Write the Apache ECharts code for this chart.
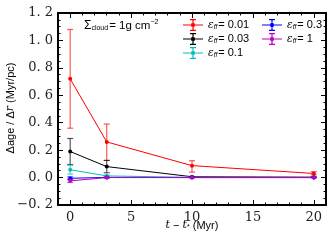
<!DOCTYPE html>
<html><head><meta charset="utf-8">
<script src="https://cdn.jsdelivr.net/npm/echarts@6/dist/echarts.min.js"></script>
<style>html,body{margin:0;padding:0;background:#fff}#c{width:333px;height:244px}</style>
</head><body><div id="c"></div>
<script>
// Data
const times = [0, 3, 10, 20];
const effLabels = ['0.01', '0.03', '0.1', '0.3', '1'];
const colors = ['#ff0000', '#000000', '#00bfbf', '#0000ff', '#bf00bf'];
const val_001 = [0.72, 0.26, 0.087, 0.03];
const lo_001  = [0.36, 0.125, 0.04, 0.02];
const hi_001  = [1.08, 0.39, 0.123, 0.043];
const val_003 = [0.19, 0.08, 0.006, 0.003];
const lo_003  = [0.095, 0.035, 0.004, 0.002];
const hi_003  = [0.285, 0.125, 0.008, 0.004];
const val_01  = [0.057, 0.012, 0.002, 0.001];
const lo_01   = [0.025, 0.006, 0.001, 0.0];
const hi_01   = [0.09, 0.018, 0.003, 0.002];
const val_03  = [-0.005, 0.001, 0.0, 0.0];
const lo_03   = [-0.015, -0.002, -0.001, -0.001];
const hi_03   = [0.005, 0.004, 0.001, 0.001];
const val_1   = [-0.024, 0.0, 0.0, 0.0];
const lo_1    = [-0.036, -0.003, -0.001, -0.001];
const hi_1    = [-0.012, 0.003, 0.001, 0.001];
const xMajor = [0, 5, 10, 15, 20];
const xMinor = [-1, 1, 2, 3, 4, 6, 7, 8, 9, 11, 12, 13, 14, 16, 17, 18, 19, 21];

const vals = [val_001, val_003, val_01, val_03, val_1];
const los = [lo_001, lo_003, lo_01, lo_03, lo_1];
const his = [hi_001, hi_003, hi_01, hi_03, hi_1];

const chart = echarts.init(document.getElementById('c'), null, {renderer: 'canvas'});
const serif = 'DejaVu Serif';
const sans = 'Liberation Sans';
const names = effLabels.map(e => 'eff' + e);

const series = [];
vals.forEach((v, i) => {
  series.push({
    type: 'custom', xAxisIndex: 0, yAxisIndex: 0, z: 2, silent: true,
    data: times.map((t, j) => [t, los[i][j], his[i][j]]),
    renderItem: (params, api) => {
      const x = api.value(0);
      const p1 = api.coord([x, api.value(1)]);
      const p2 = api.coord([x, api.value(2)]);
      const cw = 3;
      const st = {stroke: colors[i], lineWidth: 1.2, opacity: 0.65};
      return {type: 'group', children: [
        {type: 'line', shape: {x1: p1[0], y1: p1[1], x2: p2[0], y2: p2[1]}, style: st},
        {type: 'line', shape: {x1: p1[0]-cw, y1: p1[1], x2: p1[0]+cw, y2: p1[1]}, style: st},
        {type: 'line', shape: {x1: p2[0]-cw, y1: p2[1], x2: p2[0]+cw, y2: p2[1]}, style: st}
      ]};
    }
  });
  series.push({
    name: names[i], type: 'line', xAxisIndex: 0, yAxisIndex: 0, z: 3,
    data: times.map((t, j) => [t, v[j]]),
    symbol: 'circle', symbolSize: 4, showSymbol: true,
    lineStyle: {color: colors[i], width: 1},
    itemStyle: {color: colors[i]},
    animation: false
  });
});

const icon = 'path://M0,5.5h20v1h-20z M9.4,0h1.2v12h-1.2z M7,0h6v1.2h-6z M7,10.8h6v1.2h-6z M8.2,4.2h3.6v3.6h-3.6z';
const legendFmt = name => {
  const e = name.replace('eff', '');
  return '{e|ε}{s|ff}{t|= ' + e + '}';
};
const legendText = {
  fontFamily: sans, fontSize: 10.5, color: '#000',
  rich: {
    e: {fontFamily: serif, fontStyle: 'italic', fontSize: 10.5},
    s: {fontFamily: sans, fontStyle: 'italic', fontSize: 6.5, verticalAlign: 'bottom', padding: [4, 1, 0, 0]},
    t: {fontFamily: sans, fontSize: 11}
  }
};

const xBase = {type: 'value', min: -1, max: 21, gridIndex: 0, splitLine: {show: false}};
const option = {
  animation: false,
  backgroundColor: '#fff',
  grid: {left: 58, right: 7, top: 13, bottom: 39, containLabel: false},
  xAxis: [
    Object.assign({}, xBase, {position: 'bottom',
      axisLine: {show: true, onZero: false, lineStyle: {color: '#000', width: 2}},
      axisTick: {show: true, inside: true, length: 5, customValues: xMajor, lineStyle: {color: '#000', width: 1}},
      axisLabel: {show: true, customValues: xMajor, fontFamily: serif, fontSize: 13, color: '#222', margin: 6}}),
    Object.assign({}, xBase, {position: 'bottom',
      axisLine: {show: false, onZero: false},
      axisTick: {show: true, inside: true, length: 2.5, customValues: xMinor, lineStyle: {color: '#000', width: 1}},
      axisLabel: {show: false}}),
    Object.assign({}, xBase, {position: 'top',
      axisLine: {show: true, onZero: false, lineStyle: {color: '#000', width: 2}},
      axisTick: {show: true, inside: true, length: 5, customValues: xMajor, lineStyle: {color: '#000', width: 1}},
      axisLabel: {show: false}}),
    Object.assign({}, xBase, {position: 'top',
      axisLine: {show: false, onZero: false},
      axisTick: {show: true, inside: true, length: 2.5, customValues: xMinor, lineStyle: {color: '#000', width: 1}},
      axisLabel: {show: false}})
  ],
  yAxis: [
    {type: 'value', min: -0.2, max: 1.2, interval: 0.2, position: 'left',
      splitLine: {show: false},
      axisLine: {show: true, onZero: false, lineStyle: {color: '#000', width: 2}},
      axisTick: {show: true, inside: true, length: 5, lineStyle: {color: '#000', width: 1}},
      minorTick: {show: true, splitNumber: 4, length: 2.5, lineStyle: {color: '#000', width: 1}},
      axisLabel: {fontFamily: serif, fontSize: 13, color: '#222', margin: 5,
        formatter: v => v.toFixed(1).replace('-', '−').replace('.', '. ')}},
    {type: 'value', min: -0.2, max: 1.2, interval: 0.2, position: 'right',
      splitLine: {show: false},
      axisLine: {show: true, onZero: false, lineStyle: {color: '#000', width: 2}},
      axisTick: {show: true, inside: true, length: 5, lineStyle: {color: '#000', width: 1}},
      minorTick: {show: true, splitNumber: 4, length: 2.5, lineStyle: {color: '#000', width: 1}},
      axisLabel: {show: false}}
  ],
  legend: [
    {orient: 'vertical', left: 183, top: 19, itemGap: 2, itemWidth: 20, itemHeight: 12,
      data: names.slice(0, 3).map(n => ({name: n, icon: icon})),
      formatter: legendFmt, textStyle: legendText, padding: 0, selectedMode: false},
    {orient: 'vertical', left: 262, top: 19, itemGap: 2, itemWidth: 20, itemHeight: 12,
      data: names.slice(3).map(n => ({name: n, icon: icon})),
      formatter: legendFmt, textStyle: legendText, padding: 0, selectedMode: false}
  ],
  graphic: [
    {type: 'text', left: 84, top: 19, style: {
      text: '{a|Σ}{b|cloud}{c|= 1g cm}{d|−2}',
      rich: {
        a: {fontFamily: sans, fontSize: 12, fill: '#000'},
        b: {fontFamily: sans, fontSize: 7, fill: '#000', padding: [5, 1, 0, 0]},
        c: {fontFamily: sans, fontSize: 11.5, fill: '#000'},
        d: {fontFamily: sans, fontSize: 7, fill: '#000', padding: [0, 0, 6, 0]}
      }}},
    {type: 'text', x: 192, y: 220, style: {
      text: '{i|t} − {i|t}{s|*} (Myr)', align: 'center',
      fontFamily: sans, fontSize: 11, fill: '#000',
      rich: {i: {fontFamily: serif, fontStyle: 'italic', fontSize: 11}, s: {fontSize: 7, padding: [3, 0, 0, 0]}}}},
    {type: 'text', x: 5, y: 108, rotation: Math.PI / 2, style: {
      text: 'Δage / Δ{i|r} (Myr/pc)', align: 'center', verticalAlign: 'top',
      fontFamily: sans, fontSize: 11, fill: '#000',
      rich: {i: {fontFamily: serif, fontStyle: 'italic', fontSize: 11}}}}
  ],
  series: series
};
chart.setOption(option);
</script></body></html>
